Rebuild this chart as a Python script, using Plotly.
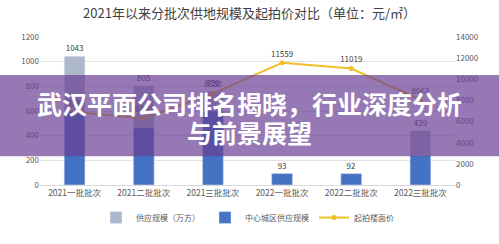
import plotly.graph_objects as go

categories = ["2021一批批次", "2021二批批次", "2021三批批次", "2022一批批次", "2022二批批次", "2022三批批次"]
supply = [1043, 805, 759, 93, 92, 439]
central = [600, 465, 600, 93, 92, 240]
price = [6900, 6300, 8650, 11559, 11019, 8063]

fig = go.Figure()
fig.add_trace(go.Bar(
    x=categories, y=supply, name="供应规模（万方）",
    marker_color="#ADB9CA", width=0.3,
    text=supply, textposition="outside",
    textfont=dict(size=8, color="#404040"), cliponaxis=False,
))
fig.add_trace(go.Bar(
    x=categories, y=central, name="中心城区供应规模",
    marker_color="#4472C4", width=0.3,
))
fig.add_trace(go.Scatter(
    x=categories, y=price, name="起拍楼面价", yaxis="y2",
    mode="lines+markers+text", line=dict(color="#F2BF2A", width=2),
    marker=dict(size=5, color="#F2BF2A"),
    text=price, textposition="top center",
    textfont=dict(size=8, color="#404040"), cliponaxis=False,
))

fig.update_layout(
    width=499, height=244,
    margin=dict(l=40, r=44, t=37, b=47),
    paper_bgcolor="white", plot_bgcolor="white",
    barmode="overlay",
    font=dict(family="Noto Sans CJK SC, sans-serif", size=8, color="#595959"),
    title=dict(text="2021年以来分批次供地规模及起拍价对比（单位：元/㎡）",
               x=0.5, xanchor="center", y=0.945, yanchor="middle",
               font=dict(size=13, color="#404040")),
    xaxis=dict(showgrid=False, linecolor="#D9D9D9", showline=True,
               tickfont=dict(size=8.5, color="#595959"), ticks=""),
    yaxis=dict(range=[0, 1200], dtick=200, gridcolor="#E3E3E3", zeroline=False,
               tickfont=dict(size=8, color="#595959")),
    yaxis2=dict(range=[0, 14000], dtick=2000, overlaying="y", side="right",
                showgrid=False, zeroline=False, tickformat="d",
                tickfont=dict(size=8, color="#595959")),
    legend=dict(orientation="h", x=0.5, xanchor="center", y=-0.22, yanchor="middle",
                font=dict(size=8, color="#595959"), itemwidth=30),
    showlegend=True,
)

fig.add_shape(type="rect", xref="paper", yref="paper",
              x0=-0.1, x1=1.11, y0=(197 - 166) / 160, y1=(197 - 78) / 160,
              fillcolor="rgba(105,62,148,0.7)", line=dict(width=0), layer="above")

fig.add_annotation(xref="paper", yref="paper", x=(250 - 40) / 415, y=(197 - 108) / 160,
                   text="<b>武汉平面公司排名揭晓，行业深度分析</b>", showarrow=False,
                   font=dict(size=25, color="white", family="Noto Sans CJK SC"))
fig.add_annotation(xref="paper", yref="paper", x=(250 - 40) / 415, y=(197 - 140) / 160,
                   text="<b>与前景展望</b>", showarrow=False,
                   font=dict(size=25, color="white", family="Noto Sans CJK SC"))

fig.write_html("out.html")
